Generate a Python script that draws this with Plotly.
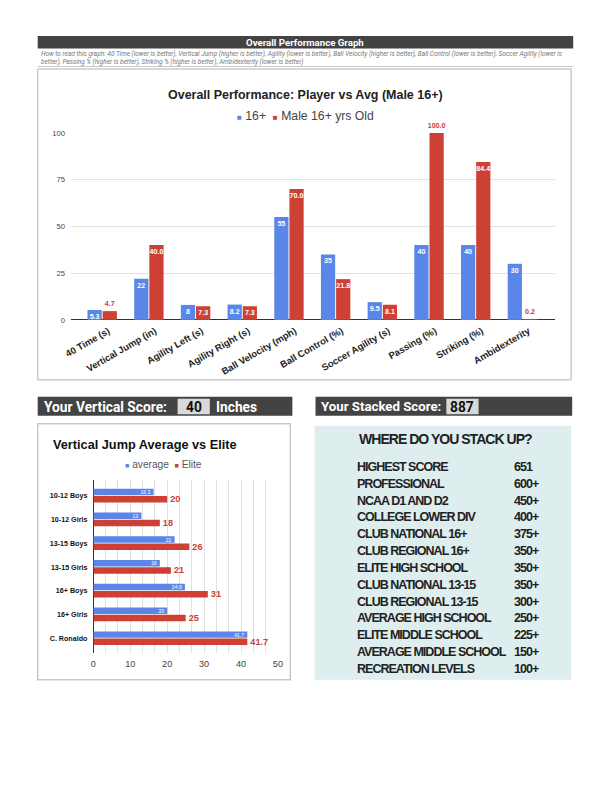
import plotly.graph_objects as go

W, H = 612, 792

# ---------------- data ----------------
perf_categories = ["40 Time (s)", "Vertical Jump (in)", "Agility Left (s)", "Agility Right (s)",
                   "Ball Velocity (mph)", "Ball Control (%)", "Soccer Agility (s)", "Passing (%)",
                   "Striking (%)", "Ambidexterity"]
perf_avg_16 = [5.3, 22, 8, 8.2, 55, 35, 9.5, 40, 40, 30]
perf_player = [4.7, 40.0, 7.3, 7.3, 70.0, 21.8, 8.1, 100.0, 84.4, 0.2]
perf_yticks = [0, 25, 50, 75, 100]

vj_groups = ["10-12 Boys", "10-12 Girls", "13-15 Boys", "13-15 Girls", "16+ Boys", "16+ Girls", "C. Ronaldo"]
vj_average = [16.3, 13, 22, 18, 24.8, 20, 41.7]
vj_elite = [20, 18, 26, 21, 31, 25, 41.7]
vj_xticks = [0, 10, 20, 30, 40, 50]

stack_levels = ["HIGHEST SCORE", "PROFESSIONAL", "NCAA D1 AND D2", "COLLEGE LOWER DIV",
                "CLUB NATIONAL 16+", "CLUB REGIONAL 16+", "ELITE HIGH SCHOOL", "CLUB NATIONAL 13-15",
                "CLUB REGIONAL 13-15", "AVERAGE HIGH SCHOOL", "ELITE MIDDLE SCHOOL",
                "AVERAGE MIDDLE SCHOOL", "RECREATION LEVELS"]
stack_scores = ["651", "600+", "450+", "400+", "375+", "350+", "350+", "350+", "300+",
                "250+", "225+", "150+", "100+"]

vertical_score = "40"
stacked_score = "887"

BLUE = "#5b86e9"
RED = "#cc4133"
DARK = "#434343"

# page-pixel -> paper mapping (small correction for the capture's offset/scale)
OX, SX, OY, SY = 11.5, 0.974, 4.0, 0.989
FS = 1 / 0.982


def X(p):
    return ((p - OX) / SX) / W


def Y(p):
    return 1 - ((p - OY) / SY) / H


def f(s):
    return round(s * FS, 2)


fig = go.Figure()

LIB = "Liberation Sans, Arial"

# ---------------- top chart ----------------
fig.add_trace(go.Bar(
    x=perf_categories, y=perf_avg_16, name="16+", marker=dict(color=BLUE, line=dict(width=0)),
    width=0.305, offset=-0.315, xaxis="x", yaxis="y",
    texttemplate="<b>%{y}</b>", textposition="inside", insidetextanchor="end",
    insidetextfont=dict(color="white", size=f(7), family=LIB),
    constraintext="none", textangle=0, cliponaxis=False, showlegend=False))
red_pos = ["outside" if v < 5 or v >= 100 else "inside" for v in perf_player]
fig.add_trace(go.Bar(
    x=perf_categories, y=perf_player, name="Male 16+ yrs Old", marker=dict(color=RED, line=dict(width=0)),
    width=0.305, offset=0.01, xaxis="x", yaxis="y",
    texttemplate="<b>%{y:.1f}</b>", textposition=red_pos, insidetextanchor="end",
    insidetextfont=dict(color="white", size=f(7), family=LIB),
    outsidetextfont=dict(color=RED, size=f(7), family=LIB),
    constraintext="none", textangle=0, cliponaxis=False, showlegend=False))

# ---------------- bottom chart ----------------
fig.add_trace(go.Bar(
    y=vj_groups, x=vj_average, orientation="h", name="average",
    marker=dict(color=BLUE, line=dict(width=0)), width=0.27, offset=-0.29,
    xaxis="x2", yaxis="y2", texttemplate="%{x}", textposition="inside", insidetextanchor="end",
    insidetextfont=dict(color="white", size=f(5), family=LIB),
    constraintext="none", textangle=0, cliponaxis=False, showlegend=False))
fig.add_trace(go.Bar(
    y=vj_groups, x=vj_elite, orientation="h", name="Elite",
    marker=dict(color=RED, line=dict(width=0)), width=0.27, offset=0.01,
    xaxis="x2", yaxis="y2", texttemplate="<b>%{x}</b>", textposition="outside",
    outsidetextfont=dict(color=RED, size=f(9), family=LIB),
    constraintext="none", textangle=0, cliponaxis=False, showlegend=False))

fig.update_layout(
    width=W, height=H, margin=dict(l=0, r=0, t=0, b=0),
    paper_bgcolor="white", plot_bgcolor="rgba(0,0,0,0)", barmode="overlay",
    font=dict(family=LIB, color="#333"),
    xaxis=dict(domain=[X(75), X(556)], range=[-0.67, 9.7], type="category",
               tickangle=-30, tickfont=dict(size=f(9.3), color="#222", weight="bold"), showgrid=False,
               ticks="", showline=False, anchor="y", ticklabelstandoff=3, ticklabelshift=6),
    yaxis=dict(domain=[Y(320), Y(133)], range=[0, 100], tickvals=perf_yticks,
               tickfont=dict(size=f(7.5), color="#444"), gridcolor="#e3e3e3", gridwidth=1,
               zeroline=True, zerolinecolor="#333", zerolinewidth=1, ticks="",
               showline=False, anchor="x", ticklabelstandoff=5),
    xaxis2=dict(domain=[X(97.3), X(280.7)], range=[0, 50], tickvals=vj_xticks,
                tickfont=dict(size=f(9), color="#444"), gridcolor="#e0e0e0", gridwidth=1,
                minor=dict(dtick=10 / 3, tick0=0, showgrid=True, gridcolor="#e0e0e0", gridwidth=1),
                zeroline=True, zerolinecolor="#333", zerolinewidth=1, ticks="",
                anchor="y2", ticklabelstandoff=4),
    yaxis2=dict(domain=[Y(653), Y(480)], range=[6.61, -0.67], type="category",
                tickfont=dict(size=f(7), color="#111", weight="bold"), showgrid=False,
                ticks="", anchor="x2", ticklabelstandoff=5),
)

shapes = []


def rect(x0, y0, x1, y1, fill=None, line=None, lw=0):
    shapes.append(dict(type="rect", xref="paper", yref="paper", x0=X(x0), x1=X(x1), y0=Y(y1), y1=Y(y0),
                       fillcolor=fill if fill else "rgba(0,0,0,0)",
                       line=dict(color=line if line else "rgba(0,0,0,0)", width=lw), layer="below"))


rect(42, 36, 574, 48.5, fill=DARK)
shapes.append(dict(type="line", xref="paper", yref="paper", x0=X(42), x1=X(574), y0=Y(66.5), y1=Y(66.5),
                   line=dict(color="#c8c8c8", width=1)))
rect(42, 69, 572, 380, line="#cccccc", lw=1.5)
rect(42, 397, 295, 416, fill=DARK)
rect(318, 397, 573, 416, fill=DARK)
rect(181, 399, 213, 414.5, fill="#d9d9d9")
rect(448, 399, 480, 414.5, fill="#d9d9d9")
rect(42, 424, 293, 680, line="#c8c8c8", lw=1.5)
rect(317, 426, 572, 680, fill="#deeeee")
fig.update_layout(shapes=shapes)

ann = []


def text(x, y, s, size, color="#222", family=LIB, xanchor="center",
         yanchor="middle", bold=False, align="left"):
    ann.append(dict(xref="paper", yref="paper", x=X(x), y=Y(y), text=s, showarrow=False,
                    xanchor=xanchor, yanchor=yanchor, align=align,
                    font=dict(size=f(size), color=color, family=family, weight="bold" if bold else "normal")))


text(308, 42.5, "Overall Performance Graph", 9.5, color="white", family="Roboto", bold=True)
text(43.5, 48.5, "<i>How to read this graph: 40 Time (lower is better), Vertical Jump (higher is better), "
     "Agility (lower is better), Ball Velocity (higher is better), Ball Control (lower is better), "
     "Soccer Agility (lower is<br>better), Passing % (higher is better), Striking % (higher is better), "
     "Ambidexterity (lower is better)</i>", 6.35, color="#777", family="Roboto", xanchor="left", yanchor="top")
text(308, 95, "Overall Performance: Player vs Avg (Male 16+)", 12.25, color="#222", bold=True)
sq = "<span style='font-size:{}px;color:{}'>■</span>"
text(308, 116.5, f"{sq.format(f(8), BLUE)} 16+  {sq.format(f(8), RED)} Male 16+ yrs Old", 12, color="#444")

text(46, 407, "Your Vertical Score:", 13.5, color="white", family="Roboto", xanchor="left", bold=True)
text(197, 407, vertical_score, 13.5, color="#111", family="Roboto", bold=True)
text(217.5, 407.5, "Inches", 13.5, color="white", family="Roboto", xanchor="left", bold=True)
text(321, 407, "Your Stacked Score:", 13, color="white", family="Roboto", xanchor="left", bold=True)
text(464, 407, stacked_score, 13.5, color="#111", family="Roboto", bold=True)

text(55, 445, "Vertical Jump Average vs Elite", 12.5, color="#111", xanchor="left", bold=True)
text(167, 465, f"{sq.format(f(7), BLUE)} average  {sq.format(f(7), RED)} Elite", 10, color="#555")

NARROW = "Liberation Sans Narrow, Liberation Sans, Arial"


def tight(s):
    return f"<span style='letter-spacing:-1px'>{s}</span>"


text(447.5, 439.5, tight("WHERE DO YOU STACK UP?"), 13.8, color="#222", family=NARROW, bold=True)
for i, (lvl, sc) in enumerate(zip(stack_levels, stack_scores)):
    yy = 467 + i * 16.85
    text(357, yy, tight(lvl), 12.3, color="#222", family=NARROW, xanchor="left", bold=True)
    text(513, yy, tight(sc), 12.3, color="#222", family=NARROW, xanchor="left", bold=True)

fig.update_layout(annotations=ann)

fig.write_html("out.html", config={"displayModeBar": False},
               post_script="document.documentElement.style.margin='0';document.body.style.margin='0';"
                           "document.body.style.padding='0';"
                           "document.documentElement.style.overflow='hidden';")
